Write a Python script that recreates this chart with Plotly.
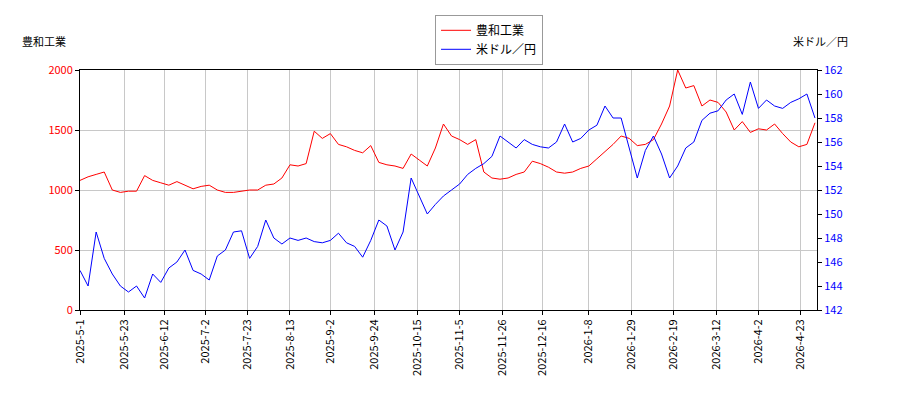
import pandas as pd
import plotly.graph_objects as go

dates = pd.date_range("2025-05-01", periods=92, freq="4D")
howa = [1080,1110,1130,1150,1000,980,990,990,1120,1080,1060,1040,1070,1040,1010,
        1030,1040,1000,980,980,990,1000,1000,1040,1050,
        1100,1210,1200,1220,1490,1430,1470,1380,1360,1330,
        1310,1370,1230,1210,1200,1180,1300,1250,1200,1350,
        1550,1450,1420,1380,1420,1150,1100,1090,1100,1130,
        1150,1240,1220,1190,1150,1140,1150,1180,1200,1260,
        1320,1380,1450,1430,1370,1380,1420,1550,1700,2000,
        1850,1870,1700,1750,1730,1650,1500,1570,1480,1510,
        1500,1550,1470,1400,1360,1380,1560]
usdjpy = [145.3,144,148.5,146.3,145,144,143.5,144,143,145,144.3,145.5,146,147,145.3,
          145,144.5,146.5,147,148.5,148.6,146.3,147.3,149.5,148,147.5,148,147.8,148,147.7,
          147.6,147.8,148.4,147.6,147.3,146.4,147.8,149.5,149,147,148.5,153,151.5,150,150.8,
          151.5,152,152.5,153.3,153.8,154.2,154.8,156.5,156,155.5,156.2,155.8,155.6,155.5,156,
          157.5,156,156.3,157,157.4,159,158,158,155.5,153,155.3,156.5,155,153,154,
          155.5,156,157.8,158.4,158.6,159.5,160,158.3,161,158.8,159.5,159,158.8,159.3,159.6,
          160,158]
tick_dates = ["2025-05-01","2025-05-23","2025-06-12","2025-07-02","2025-07-23","2025-08-13",
              "2025-09-02","2025-09-24","2025-10-15","2025-11-05","2025-11-26","2025-12-16",
              "2026-01-08","2026-01-29","2026-02-19","2026-03-12","2026-04-02","2026-04-23"]
tick_labels = ["2025-5-1","2025-5-23","2025-6-12","2025-7-2","2025-7-23","2025-8-13",
               "2025-9-2","2025-9-24","2025-10-15","2025-11-5","2025-11-26","2025-12-16",
               "2026-1-8","2026-1-29","2026-2-19","2026-3-12","2026-4-2","2026-4-23"]

font = "Noto Sans CJK JP"
fig = go.Figure()
fig.add_trace(go.Scatter(x=dates, y=howa, name="豊和工業", line=dict(color="red", width=1)))
fig.add_trace(go.Scatter(x=dates, y=usdjpy, name="米ドル／円", yaxis="y2", line=dict(color="blue", width=1)))
ax = dict(showline=True, linecolor="black", mirror=True, gridcolor="#c8c8c8", ticks="outside",
          ticklen=4, tickcolor="black", zeroline=False)
fig.update_layout(
    width=892, height=392, paper_bgcolor="white", plot_bgcolor="white",
    margin=dict(l=72, r=83, t=62, b=90, autoexpand=False),
    font=dict(family=font, size=11, color="black"),
    xaxis=dict(**ax, range=["2025-05-01", "2026-05-01"], tickvals=tick_dates, ticktext=tick_labels,
               tickangle=-90),
    yaxis=dict(**ax, range=[0, 2000], dtick=500, tickfont=dict(color="red")),
    yaxis2=dict(showline=False, ticks="outside", ticklen=4, tickcolor="black", overlaying="y",
                side="right", range=[142, 162], dtick=2, showgrid=False, zeroline=False,
                tickfont=dict(color="blue")),
    legend=dict(x=0.555, xanchor="center", y=1.23, yanchor="top", bordercolor="#999",
                borderwidth=1, font=dict(size=12)),
    annotations=[
        dict(text="豊和工業", xref="paper", yref="paper", x=-0.081, y=1.08, xanchor="left",
             yanchor="bottom", showarrow=False, font=dict(size=11)),
        dict(text="米ドル／円", xref="paper", yref="paper", x=1.045, y=1.08, xanchor="right",
             yanchor="bottom", showarrow=False, font=dict(size=11)),
    ],
)
fig.write_html("out.html")
